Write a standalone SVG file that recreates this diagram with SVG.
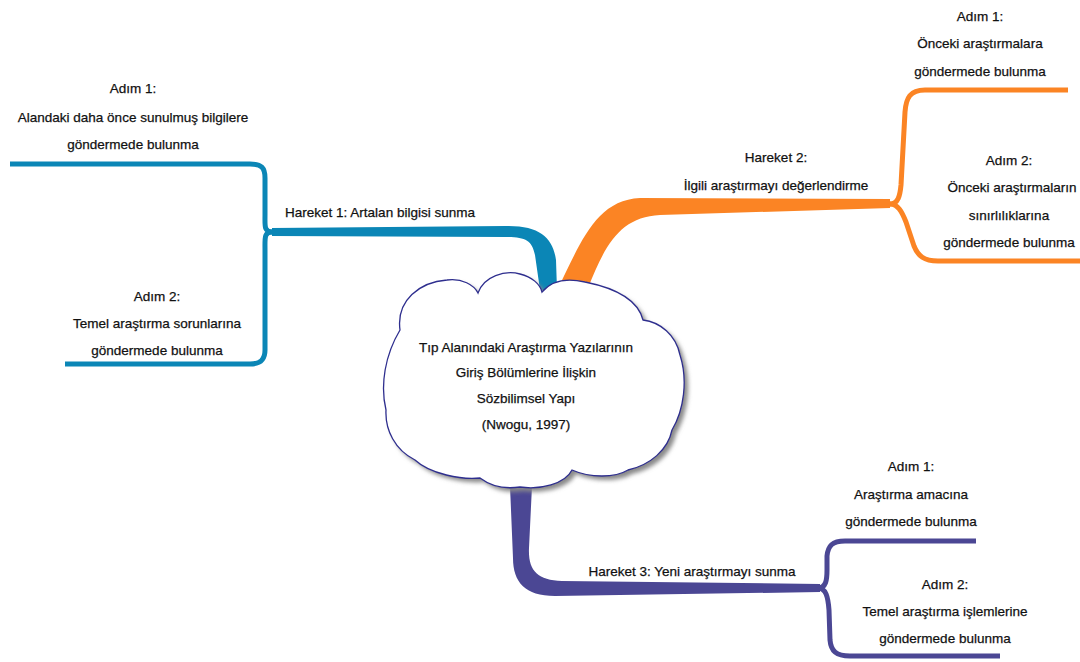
<svg xmlns="http://www.w3.org/2000/svg" width="1080" height="662" viewBox="0 0 1080 662">
<defs>
<style>
text{font-family:"Liberation Sans","DejaVu Sans",sans-serif;font-size:13.5px;fill:#111;stroke:#111;stroke-width:0.25;text-anchor:middle}
.sub{fill:none;stroke-width:5;stroke-linecap:butt;stroke-linejoin:round}
.blue{stroke:#0b86b6}
.orange{stroke:#fb8424}
.purple{stroke:#4b4794}
</style>
<filter id="sh" x="-10%" y="-10%" width="130%" height="130%">
<feGaussianBlur stdDeviation="2"/>
</filter>
</defs>
<rect width="1080" height="662" fill="#ffffff"/>
<g id="connectors">
<path d="M540,290 L535,255 C532,240 525,237 505,237 L272,236 L272,228 L505,226 C540,225 553,238 556,260 L557,290 Z" fill="#0b86b6"/>
<path class="sub blue" d="M272,232 C264,232 265,226 265,215 L265,178 C265,168 262,164 250,164 L10,164"/>
<path class="sub blue" d="M272,232 C264,232 265,238 265,250 L265,350 C265,360 260,364 250,364 L65,364"/>
<path d="M558,288 C580,245 595,200 640,198 L890,199 L890,208 L660,215 C620,217 605,245 588,288 Z" fill="#fb8424"/>
<path class="sub orange" d="M890,204 C898,204 900,196 901,185 L905,112 C906,98 910,90 925,90 L1068,90"/>
<path class="sub orange" d="M890,204 C898,204 902,212 906,222 L914,246 C918,256 924,261 938,261 L1080,261"/>
<path d="M510,486 L532,486 L529,548 C528,570 537,580 562,581 L820,584 L820,592 L555,596 C525,596 513,582 513,558 Z" fill="#4b4794"/>
<path class="sub purple" d="M818,588 C826,588 827,580 827,570 L827,556 C828,546 832,541 845,541 L976,541"/>
<path class="sub purple" d="M818,588 C826,588 828,597 829,610 L830,640 C831,651 836,656 850,656 L1000,656"/>
</g>
<g id="cloud">
<path transform="translate(4,4)" filter="url(#sh)" fill="#8a8a8a" d="M400,330 C396,300 420,282 447,280 C462,278 474,285 478,293 C484,276 505,270 520,274 C532,277 540,284 542,292 C552,280 568,278 585,282 C615,288 638,300 643,320 C660,322 676,335 680,355 C688,380 684,410 672,430 C668,450 650,465 628,470 C615,478 590,478 572,470 C565,484 540,490 520,487 C500,490 488,484 480,478 C462,480 430,474 415,460 C395,450 385,430 386,410 C380,385 385,355 400,330 Z"/>
<path fill="#ffffff" stroke="#2e2e8e" stroke-width="1.3" d="M400,330 C396,300 420,282 447,280 C462,278 474,285 478,293 C484,276 505,270 520,274 C532,277 540,284 542,292 C552,280 568,278 585,282 C615,288 638,300 643,320 C660,322 676,335 680,355 C688,380 684,410 672,430 C668,450 650,465 628,470 C615,478 590,478 572,470 C565,484 540,490 520,487 C500,490 488,484 480,478 C462,480 430,474 415,460 C395,450 385,430 386,410 C380,385 385,355 400,330 Z"/>
<text x="526" y="352">Tıp Alanındaki Araştırma Yazılarının</text>
<text x="526" y="377">Giriş Bölümlerine İlişkin</text>
<text x="526" y="403">Sözbilimsel Yapı</text>
<text x="526" y="429">(Nwogu, 1997)</text>
</g>
<g id="hareket1">
<text x="380" y="217">Hareket 1: Artalan bilgisi sunma</text>
</g>
<g id="h1-adim1">
<text x="133" y="93">Adım 1:</text>
<text x="133" y="122">Alandaki daha önce sunulmuş bilgilere</text>
<text x="133" y="149">göndermede bulunma</text>
</g>
<g id="h1-adim2">
<text x="157" y="301">Adım 2:</text>
<text x="157" y="328">Temel araştırma sorunlarına</text>
<text x="157" y="355">göndermede bulunma</text>
</g>
<g id="hareket2">
<text x="776" y="162">Hareket 2:</text>
<text x="776" y="190">İlgili araştırmayı değerlendirme</text>
</g>
<g id="h2-adim1">
<text x="980" y="21">Adım 1:</text>
<text x="980" y="48">Önceki araştırmalara</text>
<text x="980" y="76">göndermede bulunma</text>
</g>
<g id="h2-adim2">
<text x="1009" y="165">Adım 2:</text>
<text x="1012" y="192">Önceki araştırmaların</text>
<text x="1009" y="220">sınırlılıklarına</text>
<text x="1009" y="247">göndermede bulunma</text>
</g>
<g id="hareket3">
<text x="692" y="576">Hareket 3: Yeni araştırmayı sunma</text>
</g>
<g id="h3-adim1">
<text x="911" y="471">Adım 1:</text>
<text x="911" y="499">Araştırma amacına</text>
<text x="911" y="526">göndermede bulunma</text>
</g>
<g id="h3-adim2">
<text x="945" y="589">Adım 2:</text>
<text x="945" y="616">Temel araştırma işlemlerine</text>
<text x="945" y="643">göndermede bulunma</text>
</g>
</svg>
